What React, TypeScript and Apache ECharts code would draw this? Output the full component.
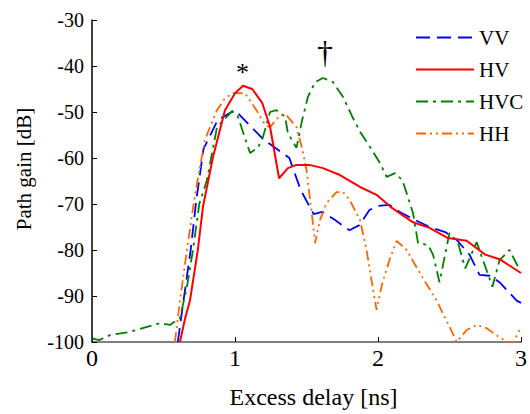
import React, { useEffect, useRef } from "react";
import * as echarts from "echarts";

const seriesNames = ["VV", "HV", "HVC", "HH"];
const seriesColors = ["#0000ff", "#ff0000", "#008000", "#ff6600"];

const vvDelay = [0.6, 0.64, 0.69, 0.73, 0.78, 0.88, 1.0, 1.1, 1.2, 1.38, 1.46, 1.55, 1.61, 1.7, 1.8, 1.87, 1.94, 2.0, 2.08, 2.15, 2.26, 2.36, 2.47, 2.55, 2.64, 2.71, 2.78, 2.85, 2.97, 3.0];
const vvGain = [-100, -91, -80, -69, -58, -51.7, -49.6, -52.8, -56, -60, -67, -72.2, -71.7, -73.5, -75.7, -74.6, -71.3, -70.4, -70.2, -71.7, -73.5, -75, -76.1, -77.8, -81, -85.4, -85.6, -87, -91, -91.5];

const hvDelay = [0.615, 0.65, 0.685, 0.74, 0.776, 0.846, 0.93, 1.0, 1.056, 1.12, 1.19, 1.245, 1.308, 1.37, 1.43, 1.52, 1.615, 1.734, 1.874, 1.99, 2.1, 2.24, 2.36, 2.49, 2.62, 2.75, 2.85, 3.0];
const hvGain = [-100, -95, -91, -80, -70.6, -59.8, -49.6, -45.9, -44.3, -45, -48, -53.2, -64.4, -62.2, -61.5, -61.5, -62.2, -63.7, -66.3, -68, -70.9, -73.9, -75.2, -77.4, -78, -81, -82, -85];

const hvcDelay = [0, 0.05, 0.126, 0.266, 0.476, 0.545, 0.615, 0.664, 0.706, 0.75, 0.804, 0.874, 0.979, 1.02, 1.105, 1.16, 1.196, 1.245, 1.29, 1.35, 1.37, 1.43, 1.47, 1.51, 1.56, 1.615, 1.685, 1.755, 1.82, 1.874, 1.944, 2.014, 2.06, 2.12, 2.17, 2.2, 2.245, 2.28, 2.35, 2.385, 2.43, 2.5, 2.56, 2.61, 2.69, 2.8, 2.85, 2.92, 2.99];
const hvcGain = [-99.2, -99.6, -98.5, -97.8, -95.9, -96.3, -94.8, -88, -80, -70, -64.8, -53.3, -49.8, -51, -58.9, -57.8, -55.4, -50, -49.6, -51, -54.6, -57.8, -51.7, -46.7, -43.5, -42.6, -43.5, -46.7, -51, -54.3, -57.6, -61.1, -64.1, -63.3, -64.8, -67.6, -72, -78.5, -78.9, -81, -87, -76.3, -78.5, -84, -78.3, -88, -82.2, -80, -84.3];

const hhDelay = [0.58, 0.615, 0.664, 0.72, 0.79, 0.874, 0.93, 0.986, 1.07, 1.15, 1.21, 1.245, 1.315, 1.36, 1.43, 1.47, 1.5, 1.54, 1.56, 1.594, 1.64, 1.71, 1.755, 1.8, 1.874, 1.92, 1.958, 1.99, 2.03, 2.08, 2.13, 2.2, 2.31, 2.41, 2.5, 2.55, 2.62, 2.69, 2.76, 2.85, 2.94, 2.99];
const hhGain = [-100, -91, -80, -68, -56, -49.6, -47, -45.9, -45.9, -49.6, -52.8, -53.3, -50.7, -50.7, -53.3, -58, -62.6, -72.8, -78.5, -73.5, -69.8, -67.4, -67.4, -69, -73.5, -80, -87.2, -93, -87.2, -82.2, -78, -80, -85.9, -91, -96.7, -100, -97.4, -96.3, -97, -99, -100.5, -97.4];

const xTicks = [0, 1, 2, 3];
const yTicks = [-100, -90, -80, -70, -60, -50, -40, -30];

const FONT = "Liberation Serif";

function zip(xs: number[], ys: number[]) {
  return xs.map((x, i) => [x, ys[i]]);
}

export default function App() {
  const ref = useRef<HTMLDivElement>(null);
  useEffect(() => {
    if (!ref.current) return;
    const chart = echarts.init(ref.current, undefined, { renderer: "svg" });
    const dashes: any[] = [[14, 7], "solid", [12, 5, 3, 5], [10, 4, 2, 4, 2, 4]];
    const widths = [1.8, 2, 1.8, 1.8];
    const datas = [zip(vvDelay, vvGain), zip(hvDelay, hvGain), zip(hvcDelay, hvcGain), zip(hhDelay, hhGain)];
    chart.setOption({
      animation: false,
      backgroundColor: "#ffffff",
      grid: { left: 92, right: 9, top: 20, bottom: 72, containLabel: false },
      legend: {
        orient: "vertical",
        left: 410,
        top: 22,
        itemWidth: 58,
        itemHeight: 14,
        itemGap: 11,
        data: seriesNames,
        itemStyle: { opacity: 0 },
        textStyle: { fontFamily: FONT, fontSize: 21, color: "#000" },
      },
      xAxis: {
        type: "value",
        min: xTicks[0],
        max: xTicks[xTicks.length - 1],
        interval: 1,
        name: "Excess delay [ns]",
        nameLocation: "middle",
        nameGap: 43,
        nameTextStyle: { fontFamily: FONT, fontSize: 24, color: "#000", padding: [0, 0, 0, 14] },
        axisLine: { show: true, onZero: false, lineStyle: { color: "#808080", width: 2 } },
        axisTick: { show: true, inside: true, length: 5, lineStyle: { color: "#000", width: 1 } },
        axisLabel: { fontFamily: FONT, fontSize: 24, color: "#000", margin: 4 },
        splitLine: { show: false },
      },
      yAxis: {
        type: "value",
        min: yTicks[0],
        max: yTicks[yTicks.length - 1],
        interval: 10,
        name: "Path gain [dB]",
        nameLocation: "middle",
        nameGap: 58,
        nameTextStyle: { fontFamily: FONT, fontSize: 21, color: "#000", padding: [0, 0, 0, 24] },
        axisLine: { show: true, onZero: false, lineStyle: { color: "#000", width: 1.5 } },
        axisTick: { show: true, inside: true, length: 5, lineStyle: { color: "#000", width: 1 } },
        axisLabel: { fontFamily: FONT, fontSize: 20, color: "#000", margin: 8 },
        splitLine: { show: false },
      },
      series: seriesNames.map((name, i) => ({
        name,
        type: "line",
        data: datas[i],
        symbol: "none",
        showSymbol: false,
        clip: true,
        z: i === 1 ? 5 : 3,
        itemStyle: { color: seriesColors[i] },
        lineStyle: { color: seriesColors[i], width: widths[i], type: dashes[i] },
      })),
      graphic: [
        { type: "text", left: 236, top: 59, style: { text: "*", font: `26px '${FONT}'`, fill: "#000" } },
        { type: "text", left: 317, top: 36, style: { text: "†", font: `32px '${FONT}'`, fill: "#000" } },
      ],
    });
    return () => chart.dispose();
  }, []);
  return <div ref={ref} style={{ position: "absolute", left: 0, top: 0, width: 530, height: 414 }} />;
}
